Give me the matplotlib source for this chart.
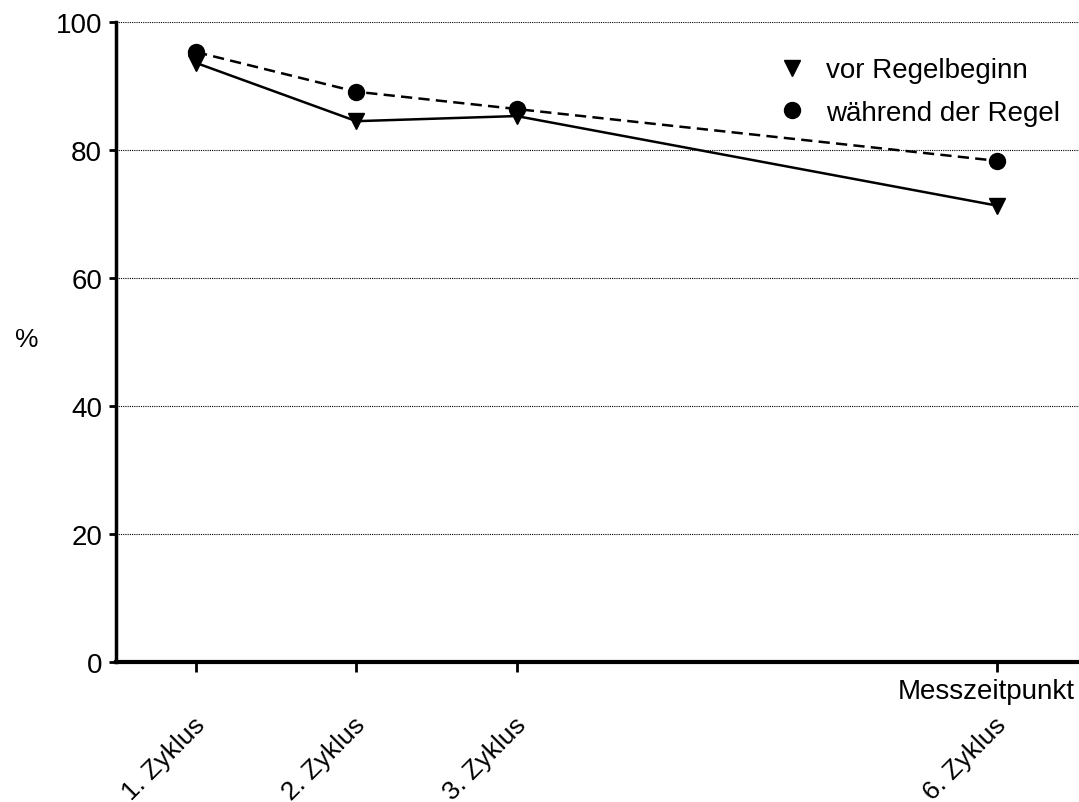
import matplotlib
matplotlib.use("Agg")
import matplotlib.pyplot as plt
from matplotlib.transforms import ScaledTranslation

plt.rcParams['font.family'] = ['Liberation Sans', 'DejaVu Sans']

# Daten
zeitpunkte = [1, 2, 3, 6]
labels = ['1. Zyklus', '2. Zyklus', '3. Zyklus', '6. Zyklus']
vor_regel = [93.6, 84.5, 85.3, 71.3]
waehrend_regel = [95.3, 89.1, 86.4, 78.3]

fig = plt.figure(figsize=(10.79, 8.03), dpi=100)
ax = fig.add_axes([0.1075, 0.1743, 0.8925, 0.7971])

ax.plot(zeitpunkte, vor_regel, color='black', linestyle='-', linewidth=1.8,
        marker='v', markersize=12, label='vor Regelbeginn', clip_on=False)
ax.plot(zeitpunkte, waehrend_regel, color='black', linestyle=(0, (4.5, 2.5)), linewidth=1.8,
        marker='o', markersize=11.5, label='während der Regel', clip_on=False)

ax.set_xlim(0.5, 6.51)
ax.set_ylim(0, 100)
ax.set_yticks([0, 20, 40, 60, 80, 100])
ax.set_xticks(zeitpunkte)
ax.set_xticklabels(labels, rotation=45, ha='right', va='center', rotation_mode='anchor')
ax.tick_params(axis='x', labelsize=19, width=2, length=7, pad=35)
ax.tick_params(axis='y', labelsize=20, width=2, length=5, pad=5)
for lab in ax.get_xticklabels():
    lab.set_transform(lab.get_transform() + ScaledTranslation(4 / 72, 0, fig.dpi_scale_trans))

ax.yaxis.grid(True, linestyle=(0, (1, 1)), color='black', linewidth=0.8)
ax.set_axisbelow(True)

ax.spines['top'].set_visible(False)
ax.spines['right'].set_visible(False)
ax.spines['bottom'].set_linewidth(3)
ax.spines['left'].set_linewidth(2.5)

ax.set_ylabel('%', fontsize=19, rotation=0, va='center', ha='center')
ax.yaxis.set_label_coords(-0.093, 0.505)
ax.text(0.996, -0.025, 'Messzeitpunkt', transform=ax.transAxes, ha='right', va='top', fontsize=20)

leg = ax.legend(loc='upper right', bbox_to_anchor=(1.0, 0.975), frameon=False, fontsize=20,
                handlelength=0.6, handletextpad=0.9, labelspacing=0.6, borderaxespad=0.3)
for line in leg.get_lines():
    line.set_linestyle('None')

fig.savefig('out.png', dpi=100)
